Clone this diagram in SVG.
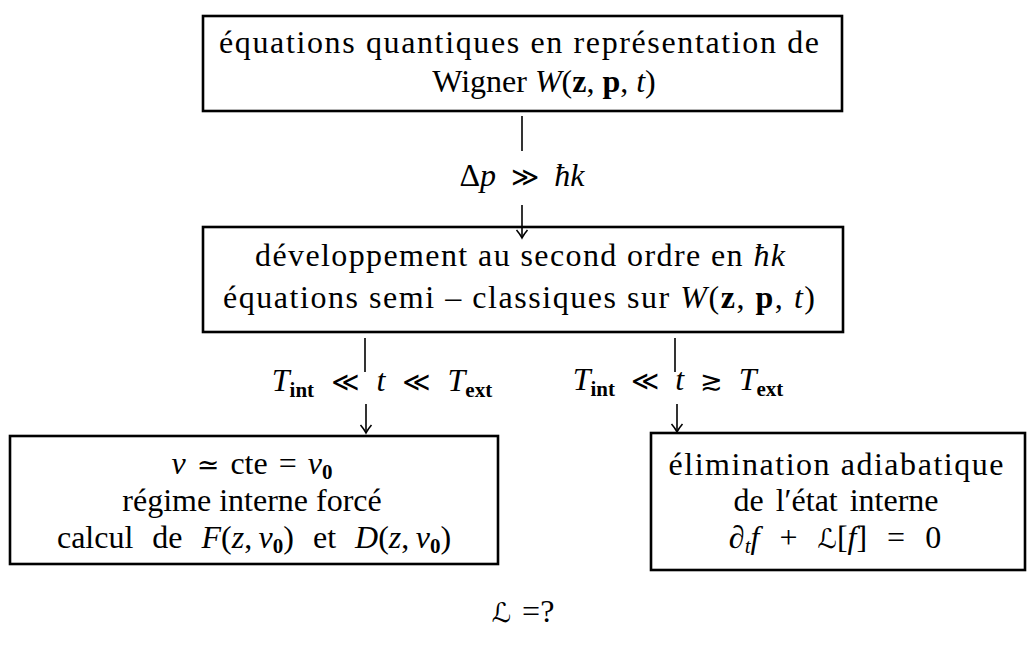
<svg xmlns="http://www.w3.org/2000/svg" width="1027" height="647" viewBox="0 0 1027 647">
<style>
.box{fill:none;stroke:#000;stroke-width:2.6}
.ln{stroke:#000;stroke-width:1.6;fill:none}
text{font-family:'Liberation Serif','DejaVu Serif',serif;font-size:32px;fill:#000}
.i{font-style:italic}
.b{font-weight:bold}
.s{font-size:21px}
.m{font-family:'DejaVu Serif','DejaVu Sans',serif;font-size:27px}
</style>
<defs>
<marker id="ah" markerUnits="userSpaceOnUse" markerWidth="14" markerHeight="14" refX="12" refY="7" orient="auto" viewBox="0 0 14 14">
<path d="M4,1.5 Q8,5 12,7 Q8,9 4,12.5" fill="none" stroke="#000" stroke-width="1.6"/>
</marker>
</defs>
<rect width="1027" height="647" fill="#fff"/>
<g id="connectors">
<line class="ln" x1="522" y1="116" x2="522" y2="151"/>
<path class="ln" d="M522,205 V238" marker-end="url(#ah)"/>
<line class="ln" x1="365" y1="338" x2="365" y2="372"/>
<path class="ln" d="M366,404 V433" marker-end="url(#ah)"/>
<line class="ln" x1="675" y1="338" x2="675" y2="372"/>
<path class="ln" d="M677,404 V432" marker-end="url(#ah)"/>
<text x="522" y="186" text-anchor="middle" word-spacing="7">Δ<tspan class="i">p</tspan> <tspan class="m">≫</tspan> <tspan class="i">ħk</tspan></text>
<text x="382" y="391" text-anchor="middle" word-spacing="9"><tspan class="i">T</tspan><tspan class="s b" dy="6">int</tspan><tspan dy="-6"> </tspan><tspan class="m">≪</tspan> <tspan class="i">t</tspan> <tspan class="m">≪</tspan> <tspan class="i">T</tspan><tspan class="s b" dy="6">ext</tspan></text>
<text x="678" y="390" text-anchor="middle" word-spacing="8"><tspan class="i">T</tspan><tspan class="s b" dy="6">int</tspan><tspan dy="-6"> </tspan><tspan class="m">≪</tspan> <tspan class="i">t</tspan> <tspan class="m">≳</tspan> <tspan class="i">T</tspan><tspan class="s b" dy="6">ext</tspan></text>
</g>
<g id="n1">
<rect class="box" x="203" y="16" width="639" height="95"/>
<text x="519" y="53" text-anchor="middle" textLength="600">équations quantiques en représentation de</text>
<text x="544" y="92" text-anchor="middle">Wigner <tspan class="i">W</tspan>(<tspan class="b">z</tspan>, <tspan class="b">p</tspan>, <tspan class="i">t</tspan>)</text>
</g>
<g id="n2">
<rect class="box" x="203" y="227" width="640" height="105"/>
<text x="520" y="266" text-anchor="middle" textLength="530">développement au second ordre en <tspan class="i">ħk</tspan></text>
<text x="519" y="308" text-anchor="middle" textLength="592">équations semi – classiques sur <tspan class="i">W</tspan>(<tspan class="b">z</tspan>, <tspan class="b">p</tspan>, <tspan class="i">t</tspan>)</text>
</g>
<g id="n3">
<rect class="box" x="10" y="436" width="488" height="128"/>
<text x="252" y="474" text-anchor="middle" word-spacing="3"><tspan class="i">v</tspan> <tspan class="m">≃</tspan> cte = <tspan class="i">v</tspan><tspan class="s b" dy="5">0</tspan></text>
<text x="252" y="511" text-anchor="middle">régime interne forcé</text>
<text x="254" y="548" text-anchor="middle" font-size="34" word-spacing="11">calcul de <tspan class="i">F</tspan>(<tspan class="i">z</tspan>,&#8201;<tspan class="i">v</tspan><tspan class="s b" dy="5">0</tspan><tspan dy="-5">) et </tspan><tspan class="i">D</tspan>(<tspan class="i">z</tspan>,&#8201;<tspan class="i">v</tspan><tspan class="s b" dy="5">0</tspan><tspan dy="-5">)</tspan></text>
</g>
<g id="n4">
<rect class="box" x="651" y="433" width="374" height="137"/>
<text x="836" y="475" text-anchor="middle" textLength="335">élimination adiabatique</text>
<text x="836" y="511" text-anchor="middle" word-spacing="4">de l′état interne</text>
<text x="835" y="548" text-anchor="middle" font-size="34" word-spacing="12">∂<tspan class="i s" dy="5">t</tspan><tspan class="i" dy="-5">f</tspan> + <tspan class="m i" font-size="30">ℒ</tspan>[<tspan class="i">f</tspan>] = 0</text>
</g>
<g id="note">
<text x="523" y="622" text-anchor="middle" word-spacing="3"><tspan class="m i" font-size="30">ℒ</tspan> =?</text>
</g>
</svg>
